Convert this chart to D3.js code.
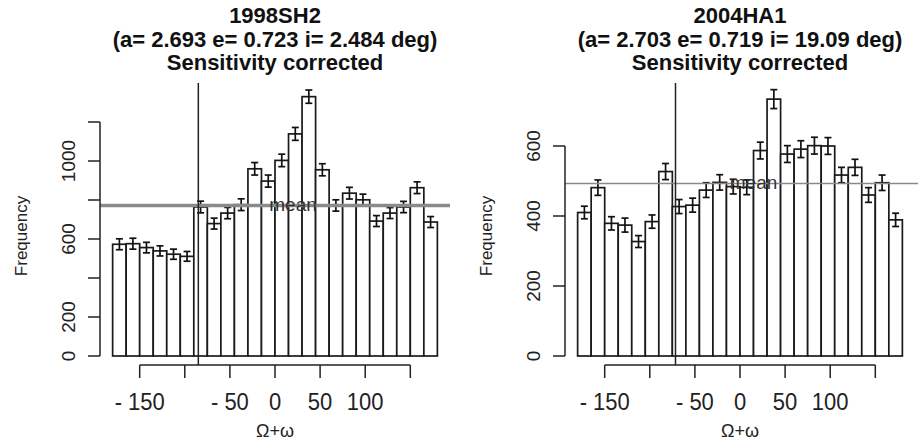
<!DOCTYPE html>
<html>
<head>
<meta charset="utf-8">
<script src="https://d3js.org/d3.v7.min.js"></script>
<style>
  body { margin: 0; background: #fff; }
  svg { display: block; font-family: "Liberation Sans", Arial, sans-serif; }
</style>
</head>
<body>
<svg width="918" height="446"></svg>
<script>
// bins of Omega + omega (deg), left edge of each 15 deg bin
var binStarts = [-180, -165, -150, -135, -120, -105, -90, -75, -60, -45, -30, -15,
                 0, 15, 30, 45, 60, 75, 90, 105, 120, 135, 150, 165];
var binWidth = 15;

// 1998SH2
var sh2Freq = [573, 576, 556, 539, 522, 511, 764, 679, 733, 776, 960, 897,
               1003, 1139, 1330, 955, 772, 835, 801, 692, 733, 764, 863, 687];
var sh2Err  = [28, 28, 27, 26, 26, 25, 30, 28, 29, 30, 32, 31,
               32, 33, 34, 31, 29, 30, 29, 28, 28, 29, 30, 28];
var sh2Mean = 772;
var sh2Line = -85;

// 2004HA1
var ha1Freq = [410, 481, 379, 374, 327, 384, 527, 427, 431, 474, 496, 484,
               482, 587, 734, 577, 591, 601, 600, 517, 539, 460, 495, 389];
var ha1Err  = [18, 22, 19, 20, 17, 19, 23, 20, 20, 21, 22, 21,
               21, 24, 27, 24, 24, 24, 24, 22, 23, 21, 22, 19];
var ha1Mean = 493;
var ha1Line = -71.5;

var xTicks = [-150, -100, -50, 0, 50, 100, 150];
var xLabels = ["- 150", "", "- 50", "0", "50", "100", ""];
var sh2YTicks = [0, 200, 400, 600, 800, 1000, 1200];
var sh2YLabels = ["0", "200", "", "600", "", "1000", ""];
var ha1YTicks = [0, 200, 400, 600];
var ha1YLabels = ["0", "200", "400", "600"];

const svg = d3.select('svg');

function panel(p) {
  var g = svg.append("g");
  var x = d3.scaleLinear().domain([-194, 194]).range([p.left, p.left + 350]);
  var y = d3.scaleLinear().domain([0, p.yMax]).range([356, p.yTop]);
  var cx = x(0);

  // titles
  g.selectAll(".title")
    .data(p.title)
    .enter().append("text")
    .attr("x", cx)
    .attr("y", (d, i) => 23 + i * 23.5)
    .attr("text-anchor", "middle")
    .attr("font-size", 22)
    .attr("font-weight", "bold")
    .attr("fill", "#111")
    .text(d => d);

  // bars
  var data = binStarts.map((b, i) => ({b: b, v: p.freq[i], e: p.err[i]}));
  g.selectAll("rect.bar")
    .data(data)
    .enter().append("rect")
    .attr("x", d => x(d.b))
    .attr("y", d => y(d.v))
    .attr("width", d => x(d.b + binWidth) - x(d.b))
    .attr("height", d => y(0) - y(d.v))
    .attr("fill", "#fff")
    .attr("stroke", "#1a1a1a")
    .attr("stroke-width", 1.7);

  // error bars
  var eb = g.selectAll("g.eb").data(data).enter().append("g")
    .attr("stroke", "#111").attr("stroke-width", 1.7);
  eb.append("line")
    .attr("x1", d => x(d.b + binWidth / 2)).attr("x2", d => x(d.b + binWidth / 2))
    .attr("y1", d => y(d.v - d.e)).attr("y2", d => y(d.v + d.e));
  eb.append("line")
    .attr("x1", d => x(d.b + binWidth / 2) - 3.5).attr("x2", d => x(d.b + binWidth / 2) + 3.5)
    .attr("y1", d => y(d.v + d.e)).attr("y2", d => y(d.v + d.e));
  eb.append("line")
    .attr("x1", d => x(d.b + binWidth / 2) - 3.5).attr("x2", d => x(d.b + binWidth / 2) + 3.5)
    .attr("y1", d => y(d.v - d.e)).attr("y2", d => y(d.v - d.e));

  // mean line
  g.append("line")
    .attr("x1", p.left).attr("x2", p.meanEnd)
    .attr("y1", y(p.mean)).attr("y2", y(p.mean))
    .attr("stroke", "#8a8a8a")
    .attr("stroke-width", p.meanWidth);
  g.append("text")
    .attr("x", x(p.meanAt))
    .attr("y", y(p.mean) + 6)
    .attr("text-anchor", "middle")
    .attr("font-size", 19)
    .attr("fill", "#333")
    .text("mean");

  // vertical marker
  g.append("line")
    .attr("x1", x(p.vline)).attr("x2", x(p.vline))
    .attr("y1", 83).attr("y2", 365)
    .attr("stroke", "#222")
    .attr("stroke-width", 1.5);

  // y axis
  var ya = g.append("g").attr("stroke", "#222").attr("stroke-width", 1.5);
  ya.append("line")
    .attr("x1", p.left).attr("x2", p.left)
    .attr("y1", y(0)).attr("y2", y(p.yTicks[p.yTicks.length - 1]));
  ya.selectAll(".yt").data(p.yTicks).enter().append("line")
    .attr("x1", p.left - 12).attr("x2", p.left)
    .attr("y1", d => y(d)).attr("y2", d => y(d));
  g.selectAll(".yl").data(p.yTicks).enter().append("text")
    .attr("transform", d => "translate(" + (p.left - 32) + "," + y(d) + ") rotate(-90)")
    .attr("text-anchor", "middle")
    .attr("dy", "0.35em")
    .attr("font-size", 19)
    .attr("fill", "#222")
    .text((d, i) => p.yLabels[i]);
  g.append("text")
    .attr("transform", "translate(" + (p.left - 79) + ",236) rotate(-90)")
    .attr("text-anchor", "middle")
    .attr("dy", "0.35em")
    .attr("font-size", 17)
    .attr("fill", "#222")
    .text("Frequency");

  // x axis
  var xa = g.append("g").attr("stroke", "#222").attr("stroke-width", 1.5);
  xa.append("line")
    .attr("x1", x(xTicks[0])).attr("x2", x(xTicks[xTicks.length - 1]))
    .attr("y1", 365).attr("y2", 365);
  xa.selectAll(".xt").data(xTicks).enter().append("line")
    .attr("x1", d => x(d)).attr("x2", d => x(d))
    .attr("y1", 365).attr("y2", 378);
  g.selectAll(".xl").data(xTicks).enter().append("text")
    .attr("transform", d => "translate(" + x(d) + ",410) scale(1,1.12)")
    .attr("text-anchor", "middle")
    .attr("font-size", 22)
    .attr("fill", "#222")
    .text((d, i) => xLabels[i]);
  g.append("text")
    .attr("x", cx)
    .attr("y", 437)
    .attr("text-anchor", "middle")
    .attr("font-size", 18)
    .attr("fill", "#222")
    .text("\u03A9+\u03C9");
}

panel({
  left: 100, yMax: 1200, yTop: 122, meanEnd: 450, meanWidth: 3.5, meanAt: 20,
  title: ["1998SH2", "(a= 2.693 e= 0.723 i= 2.484 deg)", "Sensitivity corrected"],
  freq: sh2Freq, err: sh2Err, mean: sh2Mean, vline: sh2Line,
  yTicks: sh2YTicks, yLabels: sh2YLabels
});

panel({
  left: 565, yMax: 600, yTop: 146, meanEnd: 918, meanWidth: 1.6, meanAt: 15,
  title: ["2004HA1", "(a= 2.703 e= 0.719 i= 19.09 deg)", "Sensitivity corrected"],
  freq: ha1Freq, err: ha1Err, mean: ha1Mean, vline: ha1Line,
  yTicks: ha1YTicks, yLabels: ha1YLabels
});
</script>
</body>
</html>
